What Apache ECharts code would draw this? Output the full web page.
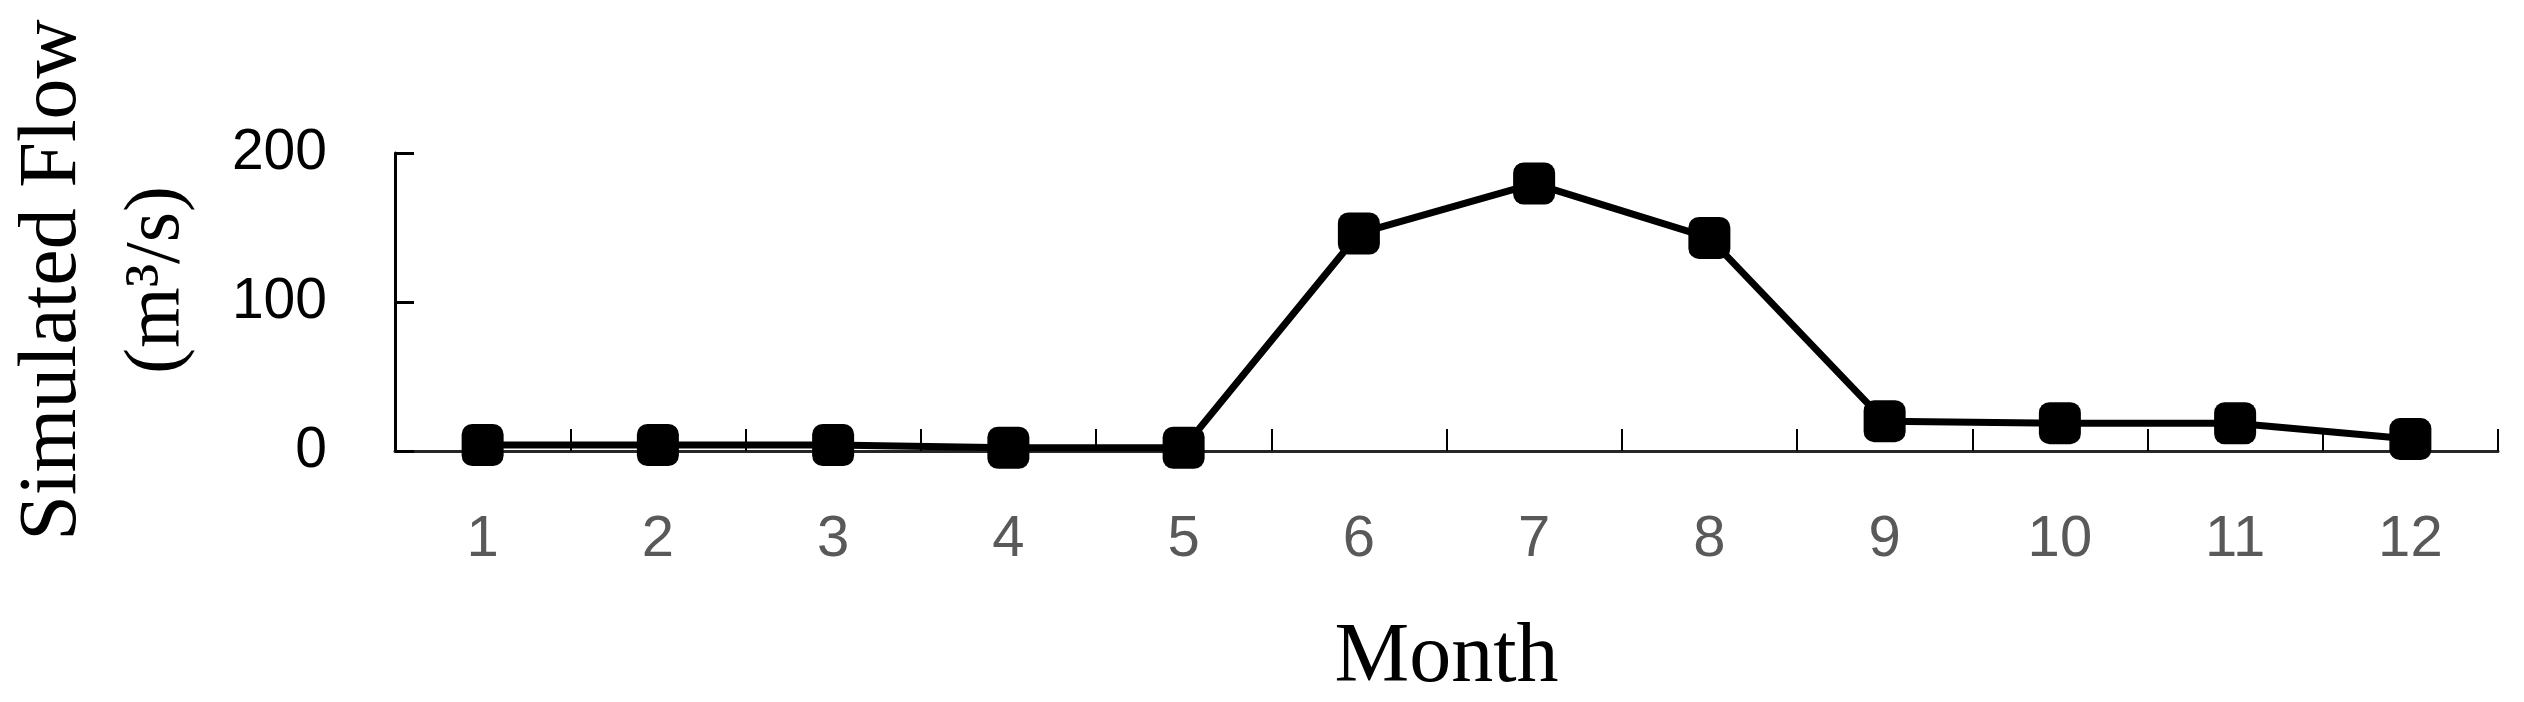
<!DOCTYPE html>
<html>
<head>
<meta charset="utf-8">
<script src="https://cdn.jsdelivr.net/npm/echarts@6/dist/echarts.min.js"></script>
<style>
  html, body { margin: 0; padding: 0; background: #fff; }
  #chart { width: 2524px; height: 702px; }
</style>
</head>
<body>
<div id="chart"></div>
<script>
// ---- data ----
const months = ['1', '2', '3', '4', '5', '6', '7', '8', '9', '10', '11', '12'];
const simulatedFlow = [4, 4, 4, 2.2, 2.2, 146, 179.5, 143, 20, 18.7, 18.6, 8];
const yTicks = [0, 100, 200];
const yTitleLine1 = 'Simulated Flow';
const yTitleLine2 = '(m³/s)';
const xTitle = 'Month';

const chart = echarts.init(document.getElementById('chart'), null, { renderer: 'canvas' });

const option = {
  backgroundColor: '#ffffff',
  animation: false,
  grid: { left: 395, right: 26, top: 153, bottom: 249, containLabel: false },
  xAxis: {
    type: 'category',
    data: months,
    boundaryGap: true,
    name: xTitle,
    nameLocation: 'middle',
    nameGap: 166,
    nameTextStyle: { fontFamily: 'Liberation Serif', fontSize: 84, color: '#000' },
    axisLine: { show: true, lineStyle: { color: '#262626', width: 3 } },
    axisTick: { show: true, inside: true, length: 22, lineStyle: { color: '#000', width: 2 } },
    axisLabel: { margin: 60, fontFamily: 'Liberation Sans', fontSize: 58, color: '#595959' },
    splitLine: { show: false }
  },
  yAxis: {
    type: 'value',
    min: yTicks[0],
    max: yTicks[yTicks.length - 1],
    interval: yTicks[1] - yTicks[0],
    axisLine: { show: true, lineStyle: { color: '#000', width: 3 } },
    axisTick: { show: true, inside: true, length: 19, lineStyle: { color: '#000', width: 3 } },
    axisLabel: { margin: 68, fontFamily: 'Liberation Sans', fontSize: 57, color: '#000' },
    splitLine: { show: false }
  },
  graphic: [
    {
      type: 'text', x: 53, y: 280, rotation: Math.PI / 2,
      style: { text: yTitleLine1, fontFamily: 'Liberation Serif', fontSize: 82, fill: '#000',
               align: 'center', verticalAlign: 'middle' }
    },
    {
      type: 'text', x: 158, y: 280, rotation: Math.PI / 2,
      style: { text: yTitleLine2, fontFamily: 'Liberation Serif', fontSize: 78, fill: '#000',
               align: 'center', verticalAlign: 'middle' }
    }
  ],
  series: [{
    type: 'line',
    data: simulatedFlow,
    symbol: 'roundRect',
    symbolSize: 42,
    showAllSymbol: true,
    lineStyle: { color: '#000', width: 7 },
    itemStyle: { color: '#000', borderColor: '#000', borderWidth: 0 }
  }]
};

chart.setOption(option);
</script>
</body>
</html>
